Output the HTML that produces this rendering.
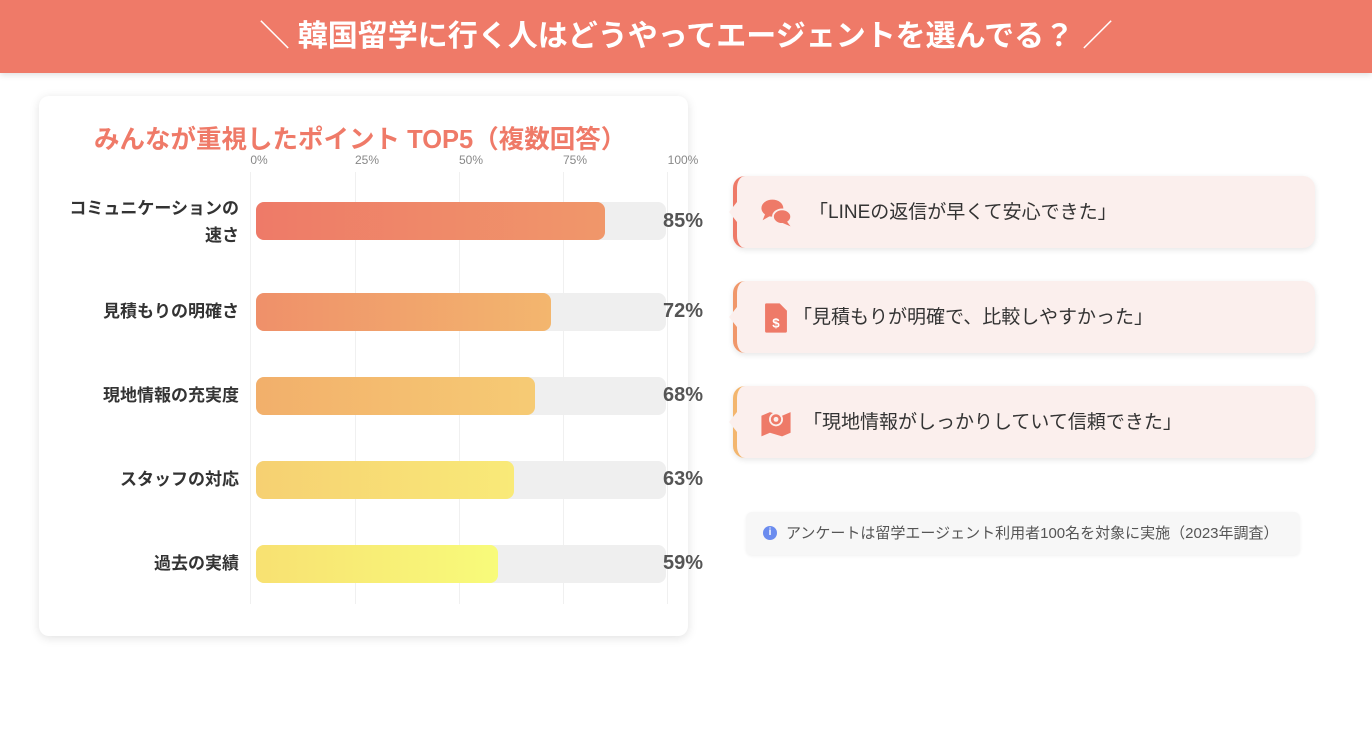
<!DOCTYPE html>
<html><head><meta charset="utf-8"><style>
*{margin:0;padding:0;box-sizing:border-box}
body{width:1372px;height:742px;background:#fff;position:relative;font-family:"Liberation Sans","Noto Sans CJK JP",sans-serif;overflow:hidden}
.hdr{position:absolute;left:0;top:0;width:1372px;height:73px;background:#ef7a68;color:#fff;font-size:30px;font-weight:bold;text-align:center;line-height:73px;box-shadow:0 2px 6px rgba(0,0,0,.12)}
.card{position:absolute;left:39px;top:96px;width:649px;height:540px;background:#fff;border-radius:10px;box-shadow:0 2px 10px rgba(0,0,0,.12)}
.title{position:absolute;left:94px;top:119px;font-size:25.5px;font-weight:bold;color:#ef7a68}
.tick{position:absolute;top:153px;font-size:12px;color:#888;transform:translateX(-50%)}
.grid{position:absolute;top:172px;width:1px;height:432px;background:#f0f0f0}
.track{position:absolute;left:256px;width:410px;height:38px;background:#efefef;border-radius:8px}
.bar{position:absolute;left:256px;height:38px;border-radius:8px}
.lab{position:absolute;right:1133px;font-size:17px;font-weight:bold;color:#333;text-align:right;line-height:27px;white-space:nowrap}
.pct{position:absolute;left:663px;font-size:20px;font-weight:bold;color:#555}
.q{position:absolute;left:733px;width:582px;height:72px;background:#fbefed;border-radius:12px;box-shadow:0 2px 6px rgba(0,0,0,.1);font-size:19px;color:#333;line-height:74px}
.q::before{content:"";position:absolute;left:-8px;top:26px;border:10px solid transparent;border-right:8px solid #fbefed;border-left:0}
.q .ic{position:absolute;left:22px;top:20px;width:34px;height:34px}
.note{position:absolute;left:746px;top:512px;width:554px;height:43px;background:#f7f7f7;border-radius:6px;font-size:15px;color:#555;line-height:43px;padding-left:40px;box-shadow:0 1px 3px rgba(0,0,0,.06)}
.note .i{position:absolute;left:17px;top:14px;width:14px;height:14px;border-radius:50%;background:#6b8cef;color:#fff;font-size:10px;line-height:14px;text-align:center;font-weight:bold}
</style></head><body>
<div class="hdr">＼ 韓国留学に行く人はどうやってエージェントを選んでる？ ／</div>
<div class="card"></div>
<div class="title">みんなが重視したポイント TOP5（複数回答）</div>
<div class="tick" style="left:259px">0%</div><div class="tick" style="left:367px">25%</div><div class="tick" style="left:471px">50%</div><div class="tick" style="left:575px">75%</div><div class="tick" style="left:683px">100%</div>
<div class="grid" style="left:250px"></div><div class="grid" style="left:355px"></div><div class="grid" style="left:459px"></div><div class="grid" style="left:563px"></div><div class="grid" style="left:667px"></div>

<div class="track" style="top:202px"></div><div class="bar" style="top:202px;width:349px;background:linear-gradient(90deg,#ee7a68,#f0976a)"></div>
<div class="lab" style="top:195px">コミュニケーションの<br>速さ</div><div class="pct" style="top:210px">85%</div>

<div class="track" style="top:293px"></div><div class="bar" style="top:293px;width:295px;background:linear-gradient(90deg,#ef906a,#f3b66e)"></div>
<div class="lab" style="top:298px">見積もりの明確さ</div><div class="pct" style="top:300px">72%</div>

<div class="track" style="top:377px"></div><div class="bar" style="top:377px;width:279px;background:linear-gradient(90deg,#f2af6b,#f6cb74)"></div>
<div class="lab" style="top:382px">現地情報の充実度</div><div class="pct" style="top:384px">68%</div>

<div class="track" style="top:461px"></div><div class="bar" style="top:461px;width:258px;background:linear-gradient(90deg,#f6d072,#f9ea78)"></div>
<div class="lab" style="top:466px">スタッフの対応</div><div class="pct" style="top:468px">63%</div>

<div class="track" style="top:545px"></div><div class="bar" style="top:545px;width:242px;background:linear-gradient(90deg,#f8e172,#f8fb7a)"></div>
<div class="lab" style="top:550px">過去の実績</div><div class="pct" style="top:552px">59%</div>

<div class="q" style="top:176px;border-left:4px solid #ee7a68"><svg class="ic" viewBox="0 0 28 28"><ellipse cx="11" cy="10" rx="9" ry="7" fill="#ee7a68"/><path d="M5 15 L3 20 L10 16Z" fill="#ee7a68"/><ellipse cx="19" cy="17" rx="7.5" ry="6" fill="#ee7a68" stroke="#fbefed" stroke-width="1.5"/><path d="M23 21 L26 25 L19 22Z" fill="#ee7a68"/></svg><span style="position:absolute;left:72px">「LINEの返信が早くて安心できた」</span></div>
<div class="q" style="top:281px;border-left:4px solid #f0976a"><svg class="ic" viewBox="0 0 28 28"><path d="M6 2 H17 L23 8 V25 Q23 26 22 26 H6 Q5 26 5 25 V3 Q5 2 6 2Z" fill="#ee7a68"/><text x="14" y="22" font-size="11" fill="#fff" text-anchor="middle" font-family="Liberation Sans" font-weight="bold">$</text></svg><span style="position:absolute;left:56px">「見積もりが明確で、比較しやすかった」</span></div>
<div class="q" style="top:386px;border-left:4px solid #f3b66e"><svg class="ic" viewBox="0 0 28 28"><path d="M2 8 L9 5 L19 8 L26 5 V22 L19 25 L9 22 L2 25Z" fill="#ee7a68"/><circle cx="14" cy="11" r="5" fill="#ee7a68" stroke="#fbefed" stroke-width="1.5"/><circle cx="14" cy="11" r="2" fill="#fbefed"/></svg><span style="position:absolute;left:66px">「現地情報がしっかりしていて信頼できた」</span></div>

<div class="note"><span class="i">i</span>アンケートは留学エージェント利用者100名を対象に実施（2023年調査）</div>
</body></html>
